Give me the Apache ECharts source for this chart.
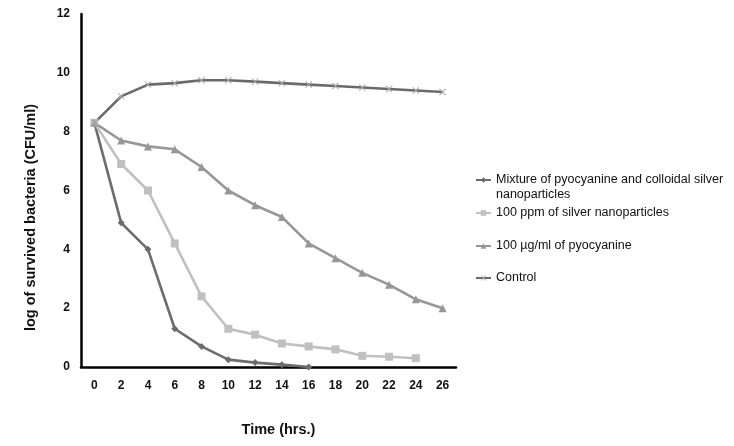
<!DOCTYPE html>
<html><head><meta charset="utf-8">
<script src="https://cdn.jsdelivr.net/npm/echarts@6/dist/echarts.min.js"></script>
<style>html,body{margin:0;padding:0;background:#fff}#c{width:734px;height:446px}</style>
</head><body><div id="c"></div>
<script>
var hours = ['0','2','4','6','8','10','12','14','16','18','20','22','24','26'];
var mixture = [8.3, 4.9, 4.0, 1.3, 0.7, 0.25, 0.15, 0.08, 0.0, null, null, null, null, null];
var silver = [8.3, 6.9, 6.0, 4.2, 2.4, 1.3, 1.1, 0.8, 0.7, 0.6, 0.38, 0.35, 0.3, null];
var pyocyanine = [8.3, 7.7, 7.5, 7.4, 6.8, 6.0, 5.5, 5.1, 4.2, 3.7, 3.2, 2.8, 2.3, 2.0];
var control = [8.3, 9.2, 9.6, 9.65, 9.75, 9.75, 9.7, 9.65, 9.6, 9.55, 9.5, 9.45, 9.4, 9.35];
var names = ['Mixture of pyocyanine and colloidal silver nanoparticles', '100 ppm of silver nanoparticles', '100 µg/ml of pyocyanine', 'Control'];

var FONT = '"Liberation Sans", Arial, sans-serif';
var xPath = 'path://M0,1L1,0L5,4L9,0L10,1L6,5L10,9L9,10L5,6L1,10L0,9L4,5Z';
function mkSeries(name, data, color, symbol, size, symColor) {
  return {
    name: name, type: 'line', data: data, symbol: symbol, symbolSize: size,
    showSymbol: true, connectNulls: false,
    lineStyle: {color: color, width: 2.6},
    itemStyle: {color: symColor || color},
    emphasis: {disabled: true}, animation: false
  };
}
function mkLegend(name, top, fmt) {
  return {
    data: [name], left: 475, top: top, orient: 'vertical', padding: 0,
    itemWidth: 15, itemHeight: 7, selectedMode: false,
    textStyle: {fontFamily: FONT, fontSize: 12.5, color: '#111', lineHeight: 15},
    formatter: fmt || function (n) { return n; }
  };
}
var chart = echarts.init(document.getElementById('c'));
chart.setOption({
  animation: false,
  backgroundColor: '#fff',
  grid: {left: 81, top: 14, right: 278, bottom: 79},
  xAxis: {
    type: 'category', data: hours, boundaryGap: true,
    name: 'Time (hrs.)', nameLocation: 'middle', nameGap: 55,
    nameTextStyle: {fontFamily: FONT, fontSize: 14.5, fontWeight: 'bold', color: '#111', padding: [0, 0, 0, 20]},
    axisLine: {lineStyle: {color: '#000', width: 2.5}},
    axisTick: {show: false},
    axisLabel: {fontFamily: FONT, fontSize: 12, fontWeight: 'bold', color: '#111', margin: 13, interval: 0}
  },
  yAxis: {
    type: 'value', min: 0, max: 12, interval: 2,
    name: 'log of survived bacteria (CFU/ml)', nameLocation: 'middle', nameGap: 43,
    nameTextStyle: {fontFamily: FONT, fontSize: 14.5, fontWeight: 'bold', color: '#111', padding: [0, 54, 0, 0]},
    axisLine: {show: true, lineStyle: {color: '#000', width: 2.5}},
    axisTick: {show: false},
    splitLine: {show: false},
    axisLabel: {fontFamily: FONT, fontSize: 12, fontWeight: 'bold', color: '#111', margin: 11}
  },
  legend: [
    mkLegend(names[0], 157.5, function () { return '\nMixture of pyocyanine and colloidal silver\nnanoparticles'; }),
    mkLegend(names[1], 205.5),
    mkLegend(names[2], 238.5),
    mkLegend(names[3], 270.5)
  ],
  series: [
    mkSeries(names[0], mixture, '#6c6c6c', 'diamond', 7),
    mkSeries(names[1], silver, '#c0c0c0', 'rect', 8),
    mkSeries(names[2], pyocyanine, '#979797', 'triangle', 8),
    mkSeries(names[3], control, '#6a6a6a', xPath, 7, '#aaaaaa')
  ]
});
</script></body></html>
